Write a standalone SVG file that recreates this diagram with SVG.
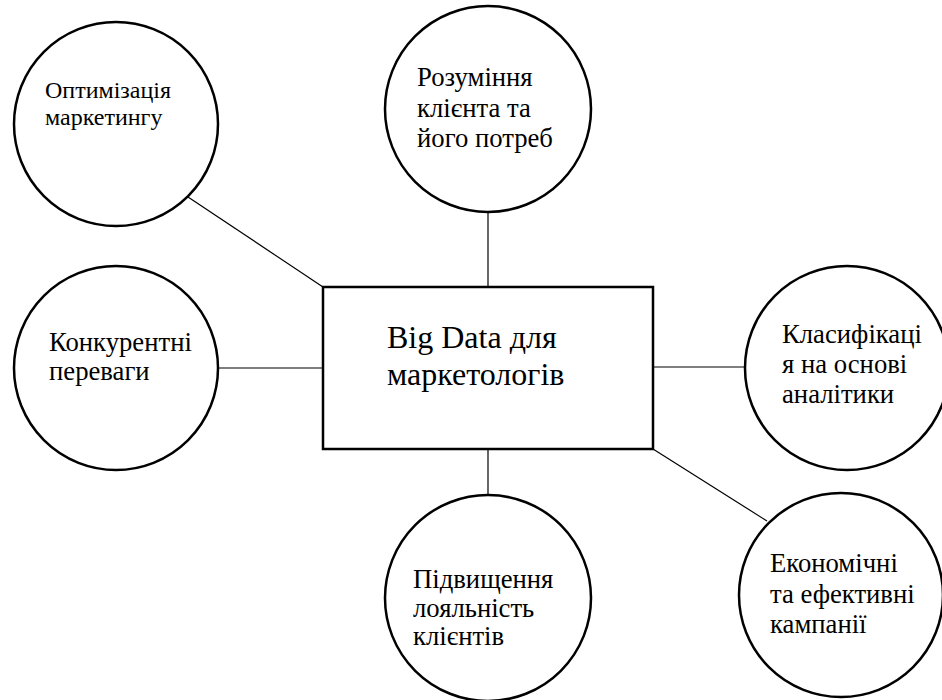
<svg xmlns="http://www.w3.org/2000/svg" width="942" height="700" viewBox="0 0 942 700">
<style>
.n{fill:#fff;stroke:#000;stroke-width:2.5}
.t{font-family:"Liberation Serif","Times New Roman",serif;font-size:26.7px;fill:#000}
.s{font-size:24px}
.c{font-size:32px}
.e{stroke:#000;stroke-width:1.2;fill:none}
</style>
<rect width="942" height="700" fill="#fff"/>
<g id="connectors">
<line class="e" x1="188" y1="197" x2="323" y2="287"/>
<line class="e" x1="488" y1="213" x2="488" y2="287"/>
<line class="e" x1="218" y1="368" x2="323" y2="368"/>
<line class="e" x1="653" y1="367" x2="745" y2="367"/>
<line class="e" x1="488" y1="449" x2="488" y2="495"/>
<line class="e" x1="653" y1="449" x2="767" y2="521"/>
</g>
<g id="center">
<rect class="n" x="323" y="287" width="330" height="162"/>
<text class="t c" x="387" y="348">Big Data для</text>
<text class="t c" x="387" y="385">маркетологів</text>
</g>
<g id="n1">
<circle class="n" cx="116" cy="124" r="102"/>
<text class="t s" x="45" y="98">Оптимізація</text>
<text class="t s" x="45" y="125">маркетингу</text>
</g>
<g id="n2">
<circle class="n" cx="488" cy="109" r="103"/>
<text class="t" x="417" y="86">Розуміння</text>
<text class="t" x="417" y="117">клієнта та</text>
<text class="t" x="417" y="147">його потреб</text>
</g>
<g id="n3">
<circle class="n" cx="116" cy="368" r="102"/>
<text class="t" x="49" y="351">Конкурентні</text>
<text class="t" x="49" y="380">переваги</text>
</g>
<g id="n4">
<circle class="n" cx="847" cy="368" r="102"/>
<text class="t" x="782" y="343">Класифікаці</text>
<text class="t" x="782" y="373">я на основі</text>
<text class="t" x="782" y="403">аналітики</text>
</g>
<g id="n5">
<circle class="n" cx="488" cy="598" r="103"/>
<text class="t" x="413" y="588">Підвищення</text>
<text class="t" x="413" y="617">лояльність</text>
<text class="t" x="413" y="645">клієнтів</text>
</g>
<g id="n6">
<circle class="n" cx="841" cy="595" r="102"/>
<text class="t" x="770" y="572">Економічні</text>
<text class="t" x="770" y="603">та ефективні</text>
<text class="t" x="770" y="633">кампанії</text>
</g>
</svg>
